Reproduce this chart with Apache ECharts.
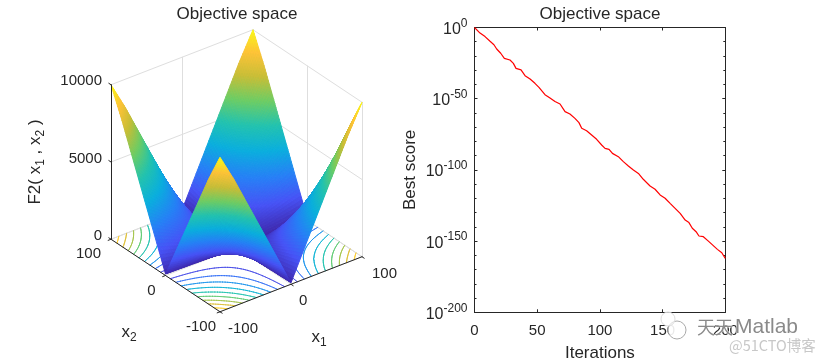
<!DOCTYPE html>
<html>
<head>
<meta charset="utf-8">
<style>html,body{margin:0;padding:0;background:#fff}#c{width:825px;height:362px}</style>
<script src="https://cdn.jsdelivr.net/npm/echarts@6/dist/echarts.min.js"></script>
</head>
<body>
<div id="c"></div>
<script>
// ---------- data ----------
const chartTitle = 'Objective space';
const x1Ticks = [-100, 0, 100];
const x2Ticks = [-100, 0, 100];
const zTicks = [0, 5000, 10000];
const gridX = [-100, -80, -60, -40, -20, 0, 20, 40, 60, 80, 100];
// F2 surface heights, rows by x2 (-100..100), columns by x1 (-100..100)
const surfaceZ = [
  [10000, 8180, 6160, 4140, 2120, 100, 2120, 4140, 6160, 8180, 10000],
  [8180, 6560, 4940, 3320, 1700, 80, 1700, 3320, 4940, 6560, 8180],
  [6160, 4940, 3720, 2500, 1280, 60, 1280, 2500, 3720, 4940, 6160],
  [4140, 3320, 2500, 1680, 860, 40, 860, 1680, 2500, 3320, 4140],
  [2120, 1700, 1280, 860, 440, 20, 440, 860, 1280, 1700, 2120],
  [100, 80, 60, 40, 20, 0, 20, 40, 60, 80, 100],
  [2120, 1700, 1280, 860, 440, 20, 440, 860, 1280, 1700, 2120],
  [4140, 3320, 2500, 1680, 860, 40, 860, 1680, 2500, 3320, 4140],
  [6160, 4940, 3720, 2500, 1280, 60, 1280, 2500, 3720, 4940, 6160],
  [8180, 6560, 4940, 3320, 1700, 80, 1700, 3320, 4940, 6560, 8180],
  [10000, 8180, 6160, 4140, 2120, 100, 2120, 4140, 6160, 8180, 10000]
];
const contourLevels = [1000, 2000, 3000, 4000, 5000, 6000, 7000, 8000, 9000, 10000];
const iterations = [0, 4.4, 8.4, 12.4, 15.5, 17.7, 20.9, 23.8, 28.3, 31, 33.1, 37.1, 40.3, 44.3, 48.2, 51.4, 56.2, 60.2, 64.2, 68.2, 72.2, 76.1, 80.1, 83.3, 85.5, 89.4, 93.4, 97.4, 101.4, 104.1, 107.3, 110, 114.7, 118.7, 122.7, 126.7, 130.7, 134.6, 140, 144, 148, 152, 156, 160, 164, 168, 171, 173.7, 176.7, 179, 182.5, 186.5, 190, 193.7, 197.2, 200];
// best score as a power of ten (the right panel is a log10 scale)
const bestScoreExp = [0, -3.9, -6.4, -9.7, -12.1, -15.1, -18.1, -21.7, -22.8, -25.2, -28.7, -29.8, -33.8, -36.2, -39.2, -42, -47.2, -49.5, -52, -53.7, -59.1, -60.7, -63.8, -66.8, -70.8, -72.5, -75.5, -78.5, -82.5, -84.9, -85.6, -88.4, -90.7, -94.2, -97.3, -100.1, -102.5, -106.6, -111.3, -113.6, -117.6, -119.9, -123.5, -127, -130.5, -135.2, -137, -141, -143.4, -146.4, -146.9, -150, -152.8, -155.8, -158.2, -162.1];
const xTickStep = 50;
const yDecadeStep = 50;
const yDecadeMin = -200;
const yDecadeMax = 0;

// ---------- style ----------
const INK = '#262626', GRIDC = '#dedede', FONT = '"Liberation Sans", Arial, sans-serif';
const parulaStops = [
  [0, 62, 38, 168], [0.125, 71, 83, 246], [0.25, 38, 129, 246], [0.375, 10, 175, 222],
  [0.5, 35, 195, 175], [0.625, 110, 205, 100], [0.75, 200, 190, 55], [0.875, 254, 195, 55], [1, 249, 251, 21]
];
function parula(t) {
  t = Math.max(0, Math.min(1, t));
  for (let i = 1; i < parulaStops.length; i++) {
    const a = parulaStops[i - 1], b = parulaStops[i];
    if (t <= b[0]) {
      const f = (t - a[0]) / (b[0] - a[0]);
      return 'rgb(' + [1, 2, 3].map(k => Math.round(a[k] + (b[k] - a[k]) * f)).join(',') + ')';
    }
  }
  return 'rgb(249,251,21)';
}
const Z_MAX = 10000;
// orthographic view of the 3-D box, in the hidden cartesian units
const view = { x1u: 0.71, x1v: 0.275, x2u: -0.545, x2v: 0.3625, z: 0.01545 };
const proj = (x1, x2, z) => [view.x1u * x1 + view.x2u * x2, view.x1v * x1 + view.x2v * x2 + view.z * z];

// height within one table cell (shading refinement of the table)
const STEP = gridX[1] - gridX[0];
function heightAt(x1, x2) {
  const fi = Math.min(gridX.length - 2, Math.floor((x1 - gridX[0]) / STEP));
  const fj = Math.min(gridX.length - 2, Math.floor((x2 - gridX[0]) / STEP));
  const a = (x1 - gridX[fi]) / STEP, b = (x2 - gridX[fj]) / STEP;
  return (surfaceZ[fj][fi] * (1 - a) + surfaceZ[fj][fi + 1] * a) * (1 - b) +
    (surfaceZ[fj + 1][fi] * (1 - a) + surfaceZ[fj + 1][fi + 1] * a) * b;
}
const SUB = 10;
const fine = [];
for (let i = 0; i < (gridX.length - 1) * SUB + 1; i++) fine.push(gridX[0] + i * STEP / SUB);

// back-to-front quads
const quads = [];
for (let i = fine.length - 2; i >= 0; i--) for (let j = fine.length - 2; j >= 0; j--) quads.push([i, j]);

const contourSegs = [];
contourLevels.forEach(level => {
  for (let i = 0; i < fine.length - 1; i++) for (let j = 0; j < fine.length - 1; j++) {
    const x0 = fine[i], x1 = fine[i + 1], y0 = fine[j], y1 = fine[j + 1];
    const c = [[x0, y0], [x1, y0], [x1, y1], [x0, y1]].map(p => [p[0], p[1], heightAt(p[0], p[1])]);
    const pts = [];
    for (let k = 0; k < 4; k++) {
      const a = c[k], b = c[(k + 1) % 4];
      if ((a[2] < level) !== (b[2] < level)) {
        const f = (level - a[2]) / (b[2] - a[2]);
        pts.push([a[0] + (b[0] - a[0]) * f, a[1] + (b[1] - a[1]) * f]);
      }
    }
    if (pts.length >= 2) contourSegs.push([pts[0][0], pts[0][1], pts[1][0], pts[1][1], level]);
    if (pts.length === 4) contourSegs.push([pts[2][0], pts[2][1], pts[3][0], pts[3][1], level]);
  }
});

function lineEl(api, a, b, color, width) {
  const p = api.coord(proj(a[0], a[1], a[2])), q = api.coord(proj(b[0], b[1], b[2]));
  if (Math.abs(p[0] - q[0]) < 0.01) { p[0] = q[0] = Math.floor(p[0]) + 0.5; }
  return { type: 'line', shape: { x1: p[0], y1: p[1], x2: q[0], y2: q[1] },
    style: { stroke: color, lineWidth: width, lineCap: 'round', fill: null }, silent: true };
}
function textEl(api, p3, dx, dy, text, align) {
  const p = api.coord(proj(p3[0], p3[1], p3[2]));
  return { type: 'text', x: p[0] + dx, y: p[1] + dy, silent: true,
    style: { text: String(text), fill: INK, font: '15px ' + FONT, align: align, verticalAlign: 'middle' } };
}
const subRich = {
  b: { fontSize: 17, fontFamily: FONT, fill: INK, color: INK, lineHeight: 16, verticalAlign: 'top' },
  s: { fontSize: 12, fontFamily: FONT, fill: INK, color: INK, lineHeight: 20, padding: [8, 0, 0, 0], verticalAlign: 'top' }
};

const option = {
  animation: false,
  backgroundColor: '#fff',
  title: [
    { text: chartTitle, left: 237, top: 5.5, padding: 0, textAlign: 'center', textStyle: { fontFamily: FONT, fontSize: 17, fontWeight: 'normal', color: INK } },
    { text: chartTitle, left: 600, top: 5.5, padding: 0, textAlign: 'center', textStyle: { fontFamily: FONT, fontSize: 17, fontWeight: 'normal', color: INK } }
  ],
  grid: [
    { left: 0, top: 0, width: 400, height: 362, show: false, outerBoundsMode: 'none' },
    { left: 474.5, top: 27.5, width: 250.8, height: 284.8, show: false, outerBoundsMode: 'none' }
  ],
  xAxis: [
    { gridIndex: 0, type: 'value', show: false, min: -236.5, max: 163.5 },
    { gridIndex: 1, type: 'value', min: 0, max: 200, interval: xTickStep, position: 'bottom',
      name: 'Iterations', nameLocation: 'middle', nameGap: 33, nameMoveOverlap: false,
      nameTextStyle: { fontFamily: FONT, fontSize: 17, color: INK },
      axisLine: { show: true, onZero: false, lineStyle: { color: INK, width: 1 } },
      axisTick: { show: true, inside: true, length: 3, lineStyle: { color: INK } },
      axisLabel: { fontFamily: FONT, fontSize: 15, color: INK, margin: 11, hideOverlap: false },
      splitLine: { show: false } },
    { gridIndex: 1, type: 'value', min: 0, max: 200, interval: xTickStep, position: 'top',
      axisLine: { show: true, onZero: false, lineStyle: { color: INK, width: 1 } },
      axisTick: { show: true, inside: true, length: 3, lineStyle: { color: INK } },
      axisLabel: { show: false }, splitLine: { show: false } }
  ],
  yAxis: [
    { gridIndex: 0, type: 'value', show: false, min: -114, max: 248 },
    { gridIndex: 1, type: 'value', min: yDecadeMin, max: yDecadeMax, interval: yDecadeStep, position: 'left',
      name: 'Best score', nameLocation: 'middle', nameGap: 56, nameRotate: 90, nameMoveOverlap: false,
      nameTextStyle: { fontFamily: FONT, fontSize: 17, color: INK },
      axisLine: { show: true, onZero: false, lineStyle: { color: INK, width: 1 } },
      axisTick: { show: true, inside: true, length: 3, lineStyle: { color: INK } },
      minorTick: { show: true, splitNumber: 5, length: 2, lineStyle: { color: INK } },
      minorSplitLine: { show: false }, splitLine: { show: false },
      axisLabel: {
        margin: 7, hideOverlap: false, showMinLabel: true, showMaxLabel: true,
        formatter: v => '{b|10}{s|' + v + '}',
        rich: {
          b: { fontFamily: FONT, fontSize: 16, color: INK, lineHeight: 15, verticalAlign: 'bottom' },
          s: { fontFamily: FONT, fontSize: 12, color: INK, lineHeight: 20, padding: [0, 0, 1, 0], verticalAlign: 'top' }
        }
      } },
    { gridIndex: 1, type: 'value', min: yDecadeMin, max: yDecadeMax, interval: yDecadeStep, position: 'right',
      axisLine: { show: true, onZero: false, lineStyle: { color: INK, width: 1 } },
      axisTick: { show: true, inside: true, length: 3, lineStyle: { color: INK } },
      minorTick: { show: true, splitNumber: 5, length: 2, lineStyle: { color: INK } },
      minorSplitLine: { show: false }, splitLine: { show: false },
      axisLabel: { show: false } }
  ],
  series: [
    { // back walls and floor grid
      type: 'custom', xAxisIndex: 0, yAxisIndex: 0, coordinateSystem: 'cartesian2d', clip: false, silent: true,
      data: [[0, 0]], z: 1,
      renderItem: (params, api) => {
        const ch = [];
        const lo = gridX[0], hi = gridX[gridX.length - 1];
        zTicks.forEach(z => {
          ch.push(lineEl(api, [lo, hi, z], [hi, hi, z], GRIDC, 1));
          ch.push(lineEl(api, [hi, hi, z], [hi, lo, z], GRIDC, 1));
        });
        x1Ticks.forEach(t => {
          ch.push(lineEl(api, [t, hi, 0], [t, hi, Z_MAX], GRIDC, 1));
          ch.push(lineEl(api, [t, hi, 0], [t, lo, 0], GRIDC, 1));
        });
        x2Ticks.forEach(t => {
          ch.push(lineEl(api, [hi, t, 0], [hi, t, Z_MAX], GRIDC, 1));
          ch.push(lineEl(api, [hi, t, 0], [lo, t, 0], GRIDC, 1));
        });
        return { type: 'group', children: ch };
      }
    },
    { // floor contours
      type: 'custom', xAxisIndex: 0, yAxisIndex: 0, clip: false, silent: true, z: 2,
      data: contourSegs, progressive: 0,
      renderItem: (params, api) => {
        const s = contourSegs[params.dataIndex];
        return lineEl(api, [s[0], s[1], 0], [s[2], s[3], 0], parula(s[4] / Z_MAX), 0.9);
      }
    },
    { // surface
      type: 'custom', xAxisIndex: 0, yAxisIndex: 0, clip: false, silent: true, z: 3,
      data: quads, progressive: 0,
      renderItem: (params, api) => {
        const q = quads[params.dataIndex];
        const xa = fine[q[0]], xb = fine[q[0] + 1], ya = fine[q[1]], yb = fine[q[1] + 1];
        const corners = [[xa, ya], [xb, ya], [xb, yb], [xa, yb]].map(c => [c[0], c[1], heightAt(c[0], c[1])]);
        const avg = corners.reduce((s, c) => s + c[2], 0) / 4;
        const col = parula(avg / Z_MAX);
        return { type: 'polygon', silent: true,
          shape: { points: corners.map(c => api.coord(proj(c[0], c[1], c[2]))) },
          style: { fill: col, stroke: col, lineWidth: 1, lineJoin: 'round' } };
      }
    },
    { // front axes, ticks and labels of the 3-D box
      type: 'custom', xAxisIndex: 0, yAxisIndex: 0, clip: false, silent: true, z: 4,
      data: [[0, 0]],
      renderItem: (params, api) => {
        const ch = [];
        const lo = gridX[0], hi = gridX[gridX.length - 1];
        ch.push(lineEl(api, [lo, hi, 0], [lo, hi, Z_MAX], INK, 1));
        ch.push(lineEl(api, [lo, hi, 0], [lo, lo, 0], INK, 1));
        ch.push(lineEl(api, [lo, lo, 0], [hi, lo, 0], INK, 1));
        zTicks.forEach(t => {
          ch.push(lineEl(api, [lo, hi, t], [lo, hi + 4, t], INK, 1));
          ch.push(textEl(api, [lo, hi, t], -9, t === 0 ? -3 : -3.5, t, 'right'));
        });
        x2Ticks.forEach(t => {
          ch.push(lineEl(api, [lo, t, 0], [lo - 4, t, 0], INK, 1));
          ch.push(textEl(api, [lo, t, 0], t === lo ? -4 : -10, 15, t, 'right'));
        });
        x1Ticks.forEach(t => {
          ch.push(lineEl(api, [t, lo, 0], [t, lo - 4, 0], INK, 1));
          ch.push(textEl(api, [t, lo, 0], t === hi ? 10 : 8, 17, t, 'left'));
        });
        const at = (x, y) => api.coord([x - 236.5, 248 - y]);
        const sub = (x, y, t, rot) => ({ type: 'text', x: at(x, y)[0], y: at(x, y)[1], rotation: rot || 0, silent: true,
          style: { text: t, rich: subRich, fill: INK, font: '17px ' + FONT, align: 'center', verticalAlign: 'middle' } });
        ch.push(sub(129, 334, '{b|x}{s|2}'));
        ch.push(sub(319, 339, '{b|x}{s|1}'));
        ch.push(sub(37, 162, '{b|F2( x}{s|1}{b| , x}{s|2}{b| )}', Math.PI / 2));
        return { type: 'group', children: ch };
      }
    },
    { // convergence curve
      type: 'line', xAxisIndex: 1, yAxisIndex: 1, z: 5, showSymbol: false, symbol: 'none', clip: true,
      lineStyle: { color: '#ff0000', width: 1.2 },
      data: iterations.map((it, i) => [it, bestScoreExp[i]])
    }
  ],
  graphic: [
    { type: 'circle', z: 50, shape: { cx: 677, cy: 330, r: 9 }, style: { fill: 'rgba(255,255,255,0.9)', stroke: '#aaa', lineWidth: 1 } },
    { type: 'circle', z: 50, shape: { cx: 668, cy: 319, r: 7 }, style: { fill: 'rgba(255,255,255,0.6)', stroke: '#ddd', lineWidth: 1 } },
    { type: 'text', z: 51, x: 697, y: 327, style: { text: '天天', fill: '#8a8a8a', stroke: 'rgba(255,255,255,0.7)', lineWidth: 1,
        font: '18px "Noto Sans CJK SC", sans-serif', verticalAlign: 'middle', align: 'left' } },
    { type: 'text', z: 51, x: 735, y: 327, style: { text: 'Matlab', fill: '#8a8a8a', stroke: 'rgba(255,255,255,0.7)', lineWidth: 1,
        font: '21px ' + FONT, verticalAlign: 'middle', align: 'left' } },
    { type: 'text', z: 51, x: 729, y: 345, style: { text: '@51CTO博客', fill: '#c8c8c8', stroke: '#fff', lineWidth: 1,
        font: '14.5px "Noto Sans CJK SC", sans-serif', verticalAlign: 'middle', align: 'left' } }
  ]
};
echarts.init(document.getElementById('c'), null, { renderer: 'canvas' }).setOption(option);
</script>
</body>
</html>
